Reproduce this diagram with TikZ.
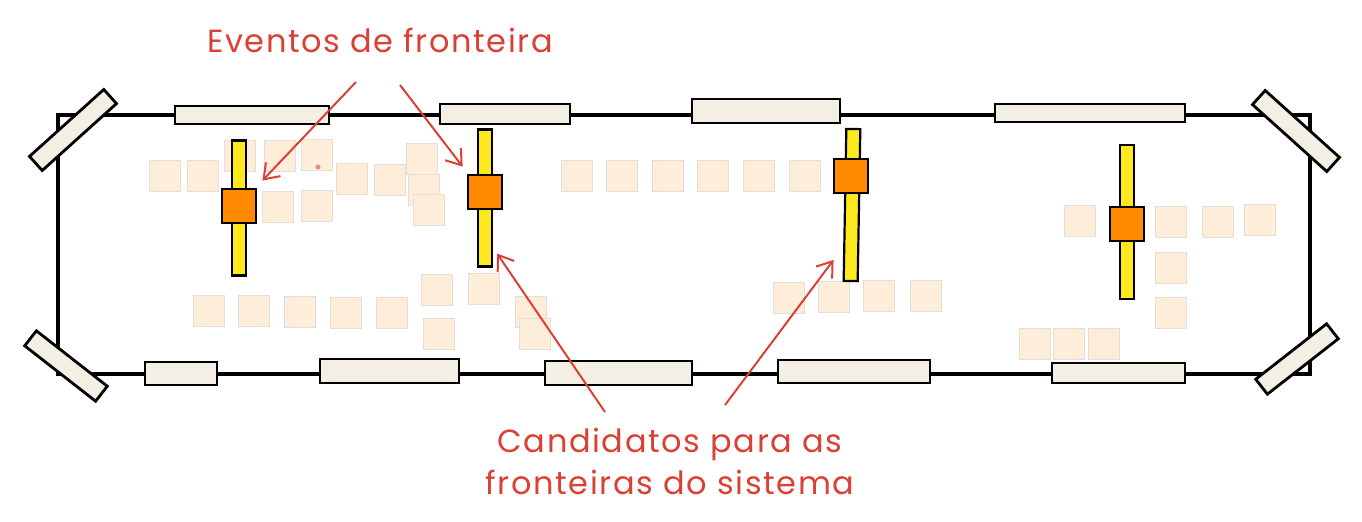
\documentclass[tikz,border=0pt]{standalone}
\usepackage{fontspec}
\setmainfont{Poppins}
\newfontfamily\handfont[LetterSpace=5]{Poppins}
\usepackage{xcolor}
\usetikzlibrary{arrows.meta, positioning}

\definecolor{penred}{RGB}{219,64,52}
\definecolor{tapefill}{RGB}{244,239,229}
\definecolor{notefill}{RGB}{253,237,217}
\definecolor{noteline}{RGB}{226,222,216}
\definecolor{poleyellow}{RGB}{255,232,30}
\definecolor{eventorange}{RGB}{255,138,0}

\begin{document}
\begin{tikzpicture}[
    x=0.5pt, y=-0.5pt,
    % Define simple, standard styles
    tape/.style={rectangle, draw=black, line width=1.4pt, fill=tapefill, inner sep=0pt},
    note/.style={rectangle, draw=noteline, line width=0.8pt, fill=notefill, minimum size=15.5pt, inner sep=0pt},
    pole/.style={rectangle, draw=black, line width=1.1pt, fill=poleyellow, minimum width=7pt, inner sep=0pt},
    event/.style={rectangle, draw=black, line width=1.4pt, fill=eventorange, minimum size=17pt, inner sep=0pt},
    redtext/.style={text=penred, align=center, font=\handfont\fontsize{16}{21}\selectfont},
    arrow/.style={draw=penred, line width=1pt, -{Straight Barb[length=7pt, width=10pt]}}
]
\useasboundingbox (0,0) rectangle (1362,521);

% 1. The board and its tapes
\draw[line width=1.6pt] (58,115) rectangle (1310,374);

\foreach \x/\y in {165/176, 203/176, 240/156, 280/156, 317/155, 352/179, 390/180,
                   422/159, 424/190, 429/210, 278/207, 317/206,
                   209/311, 254/311, 300/312, 346/313, 392/313, 437/290, 439/334,
                   484/289, 531/312, 535/334,
                   577/176, 622/176, 668/176, 713/176, 759/176, 805/176,
                   789/298, 834/297, 879/296, 926/296,
                   1080/221, 1171/222, 1218/222, 1260/220, 1171/268, 1171/313,
                   1035/344, 1069/344, 1104/344}
    \node[note] (note-\x-\y) at (\x,\y) {};

\draw[tape] (175,106) rectangle (329,124);
\draw[tape] (440,104) rectangle (570,124);
\draw[tape] (692,99) rectangle (840,123);
\draw[tape] (995,104) rectangle (1185,122);

\draw[tape] (145,362) rectangle (217,385);
\draw[tape] (320,359) rectangle (459,383);
\draw[tape] (545,361) rectangle (692,385);
\draw[tape] (778,360) rectangle (930,383);
\draw[tape] (1052,363) rectangle (1185,383);

\node[tape, minimum width=50pt, minimum height=9.5pt, rotate=42] (tapeNW) at (73,130) {};
\node[tape, minimum width=50pt, minimum height=9.5pt, rotate=-42] (tapeNE) at (1296,131) {};
\node[tape, minimum width=45pt, minimum height=9.5pt, rotate=-38] (tapeSW) at (66,366) {};
\node[tape, minimum width=45pt, minimum height=9.5pt, rotate=38] (tapeSE) at (1297,359) {};

% 2. Boundary poles and events
\node[pole, minimum height=67.5pt] (pole1) at (239,208) {};
\node[pole, minimum height=68.5pt] (pole2) at (485,198) {};
\node[pole, minimum height=76pt, rotate=-1] (pole3) at (852,205) {};
\node[pole, minimum height=77pt] (pole4) at (1127,222) {};

\node[event] (ev1) at (239,206) {};
\node[event] (ev2) at (485,192) {};
\node[event] (ev3) at (851,176) {};
\node[event] (ev4) at (1127,224) {};

\node[circle, fill=penred!60, inner sep=0pt, minimum size=2.5pt] (dot) at (318,167) {};

% 3. Labels
\node[redtext] (events) at (380,40) {Eventos de fronteira};
\node[redtext] (candidates) at (670,461) {Candidatos para as\\fronteiras do sistema};

\coordinate (evtail1) at (356,82);
\coordinate (evtail2) at (400,85);
\coordinate (cdtail1) at (605,412);
\coordinate (cdtail2) at (725,405);

% Draw the connecting arrows
\draw[arrow] (evtail1) -- ([shift={(5,-7)}]ev1.north east);
\draw[arrow] (evtail2) -- ([shift={(-4,-7)}]ev2.north west);
\draw[arrow] (cdtail1) -- ([shift={(4,-14)}]pole2.south east);
\draw[arrow] (cdtail2) -- ([shift={(-9,-22)}]pole3.south west);

\end{tikzpicture}
\end{document}
